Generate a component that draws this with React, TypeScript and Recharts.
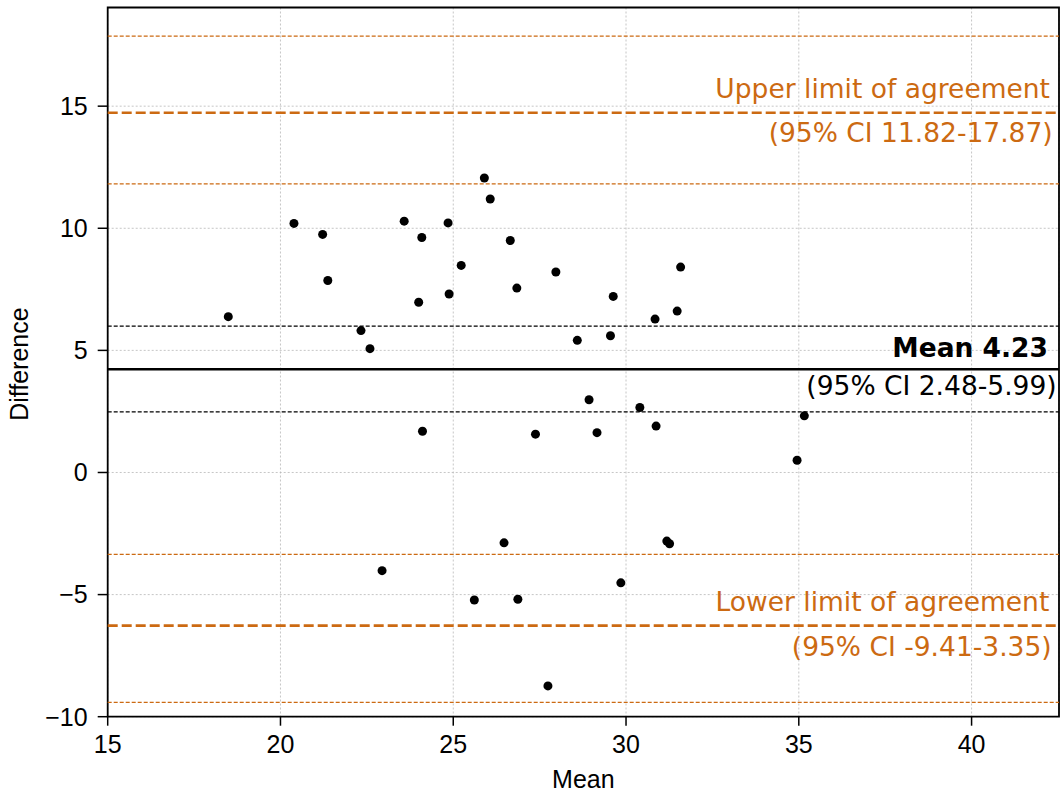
import React from 'react';
import {
  ScatterChart,
  Scatter,
  XAxis,
  YAxis,
  CartesianGrid,
  ReferenceLine,
  ReferenceArea,
  Label,
} from 'recharts';

// ---- data ----
const meanValues = [
  18.49, 20.39, 21.22, 21.37, 22.33, 22.59, 23.58, 24.09, 24.0, 24.85, 24.88, 25.23, 25.9,
  26.07, 26.65, 26.84, 27.97, 28.59, 29.63, 29.55, 30.84, 31.48, 31.58, 24.11, 27.38, 26.47,
  22.94, 25.61, 26.87, 27.74, 28.93, 29.16, 30.4, 30.87, 35.16, 34.95, 31.18, 31.26, 29.85,
];
const diffValues = [
  6.38, 10.2, 9.75, 7.86, 5.81, 5.07, 10.29, 9.62, 6.97, 10.22, 7.31, 8.48, 12.06,
  11.2, 9.5, 7.55, 8.21, 5.41, 7.21, 5.6, 6.28, 6.61, 8.41, 1.69, 1.57, -2.88,
  -4.02, -5.22, -5.19, -8.74, 2.98, 1.63, 2.66, 1.9, 2.32, 0.5, -2.81, -2.92, -4.52,
];
const xTicks = [15, 20, 25, 30, 35, 40];
const yTicks = [-10, -5, 0, 5, 10, 15];
const xDomain = [15, 42.53];
const yDomain = [-10, 19.04];

const meanDiff = 4.23;
const meanCI = [2.48, 5.99];
const upperLoA = 14.73;
const upperCI = [11.82, 17.87];
const lowerLoA = -6.27;
const lowerCI = [-9.41, -3.35];

const upperTexts = ['Upper limit of agreement', '(95% CI 11.82-17.87)'];
const meanTexts = ['Mean 4.23', '(95% CI 2.48-5.99)'];
const lowerTexts = ['Lower limit of agreement', '(95% CI -9.41-3.35)'];

const points = meanValues.map((m, i) => ({ mean: m, diff: diffValues[i] }));

const ORANGE = '#CC6A12';
const AXIS_FONT = 'Liberation Sans, Arial, Helvetica, sans-serif';
const ANN_FONT = 'DejaVu Sans, sans-serif';

const fmt = (v: number) => (v < 0 ? '\u2212' + Math.abs(v) : String(v));

type AnnLine = { text: string; dy: number; dx: number; bold?: boolean; color: string };

const annotate = (lines: AnnLine[]) => (props: any) => {
  const vb = props.viewBox || {};
  const right = (vb.x || 0) + (vb.width || 0);
  return (
    <g>
      {lines.map((l, i) => (
        <text
          key={i}
          x={right - l.dx}
          y={(vb.y || 0) + l.dy}
          textAnchor="end"
          fill={l.color}
          style={{ fontFamily: ANN_FONT, fontSize: 26.5, fontWeight: l.bold ? 'bold' : 'normal' }}
        >
          {l.text}
        </text>
      ))}
    </g>
  );
};

const Dot = (props: any) => <circle cx={props.cx} cy={props.cy} r={4.5} fill="#000" />;

const tickStyle = { fill: '#000', fontSize: 25, fontFamily: AXIS_FONT };

export default function App() {
  return (
    <div style={{ position: 'absolute', left: 0, top: 0, background: '#fff' }}>
      <ScatterChart
        width={1061}
        height={793}
        margin={{ top: 7.5, right: 2, bottom: 0, left: 0 }}
      >
        <CartesianGrid stroke="#b8b8b8" strokeDasharray="2 2" strokeWidth={0.8} />
        <XAxis
          type="number"
          dataKey="mean"
          domain={xDomain}
          ticks={xTicks}
          allowDataOverflow
          height={76.3}
          axisLine={false}
          tickLine={{ stroke: '#000', strokeWidth: 1.5 }}
          tickSize={9}
          tickMargin={10}
          tick={tickStyle}
          tickFormatter={fmt}
        >
          <Label
            content={(p: any) => {
              const vb = p.viewBox;
              return (
                <text
                  x={vb.x + vb.width / 2}
                  y={vb.y + 71}
                  textAnchor="middle"
                  fill="#000"
                  style={{ fontSize: 25, fontFamily: AXIS_FONT }}
                >
                  Mean
                </text>
              );
            }}
          />
        </XAxis>
        <YAxis
          type="number"
          dataKey="diff"
          domain={yDomain}
          ticks={yTicks}
          allowDataOverflow
          width={107.7}
          axisLine={false}
          tickLine={{ stroke: '#000', strokeWidth: 1.5 }}
          tickSize={10}
          tickMargin={10}
          tick={tickStyle}
          tickFormatter={fmt}
        >
          <Label
            content={(p: any) => {
              const vb = p.viewBox;
              const cx = vb.x + 19;
              const cy = vb.y + vb.height / 2 + 2;
              return (
                <text
                  x={cx}
                  y={cy}
                  textAnchor="middle"
                  dominantBaseline="central"
                  transform={`rotate(-90 ${cx} ${cy})`}
                  fill="#000"
                  style={{ fontSize: 25, fontFamily: AXIS_FONT }}
                >
                  Difference
                </text>
              );
            }}
          />
        </YAxis>

        {/* confidence interval lines */}
        <ReferenceLine y={upperCI[1]} stroke={ORANGE} strokeWidth={1.2} strokeDasharray="4 2" />
        <ReferenceLine y={upperCI[0]} stroke={ORANGE} strokeWidth={1.2} strokeDasharray="4 2" />
        <ReferenceLine y={meanCI[1]} stroke="#000" strokeWidth={1.2} strokeDasharray="4 2" />
        <ReferenceLine y={meanCI[0]} stroke="#000" strokeWidth={1.2} strokeDasharray="4 2" />
        <ReferenceLine y={lowerCI[1]} stroke={ORANGE} strokeWidth={1.2} strokeDasharray="4 2" />
        <ReferenceLine y={lowerCI[0]} stroke={ORANGE} strokeWidth={1.2} strokeDasharray="4 2" />

        {/* limits of agreement */}
        <ReferenceLine
          y={upperLoA}
          stroke={ORANGE}
          strokeWidth={2.6}
          strokeDasharray="10 4"
          label={annotate([
            { text: upperTexts[0], dy: -14.4, dx: 9, color: ORANGE },
            { text: upperTexts[1], dy: 29, dx: 6.3, color: ORANGE },
          ])}
        />
        <ReferenceLine
          y={lowerLoA}
          stroke={ORANGE}
          strokeWidth={2.6}
          strokeDasharray="10 4"
          label={annotate([
            { text: lowerTexts[0], dy: -14.3, dx: 9.7, color: ORANGE },
            { text: lowerTexts[1], dy: 30.7, dx: 7.3, color: ORANGE },
          ])}
        />
        <ReferenceLine
          y={meanDiff}
          stroke="#000"
          strokeWidth={2.6}
          label={annotate([
            { text: meanTexts[0], dy: -12.1, dx: 11, bold: true, color: '#000' },
            { text: meanTexts[1], dy: 26.2, dx: 2.3, color: '#000' },
          ])}
        />

        <Scatter data={points} isAnimationActive={false} shape={Dot} />

        <ReferenceArea
          x1={xDomain[0]}
          x2={xDomain[1]}
          y1={yDomain[0]}
          y2={yDomain[1]}
          fill="none"
          fillOpacity={0}
          stroke="#000"
          strokeWidth={1.8}
          ifOverflow="visible"
        />
      </ScatterChart>
    </div>
  );
}
